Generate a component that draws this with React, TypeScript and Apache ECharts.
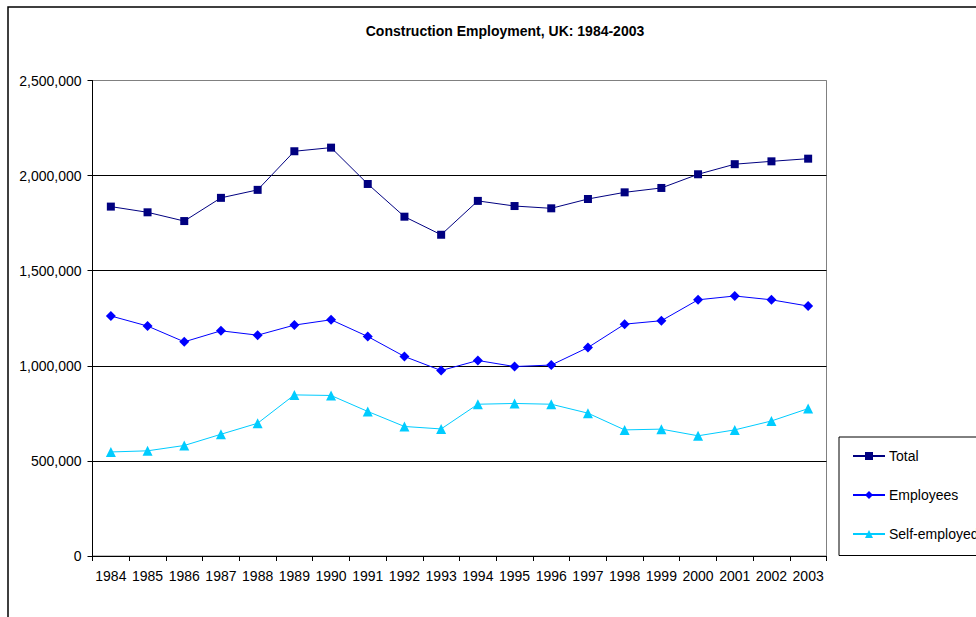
import React, { useEffect, useRef } from "react";
import * as echarts from "echarts";

const years = ["1984","1985","1986","1987","1988","1989","1990","1991","1992","1993","1994","1995","1996","1997","1998","1999","2000","2001","2002","2003"];
const total = [1837000,1807000,1761000,1883000,1925000,2128000,2147000,1956000,1784000,1689000,1867000,1840000,1828000,1877000,1912000,1935000,2007000,2060000,2075000,2089000];
const employees = [1262000,1209000,1126000,1184000,1161000,1214000,1242000,1154000,1049000,975000,1028000,996000,1004000,1096000,1219000,1237000,1347000,1367000,1347000,1314000];
const selfEmployed = [547000,553000,581000,640000,698000,847000,844000,760000,681000,668000,798000,802000,798000,751000,663000,667000,632000,663000,710000,775000];
const title = "Construction Employment, UK: 1984-2003";

const FONT = "'Liberation Sans', Arial, sans-serif";

export default function App() {
  const ref = useRef<HTMLDivElement>(null);
  useEffect(() => {
    if (!ref.current) return;
    const chart = echarts.init(ref.current, null, { renderer: "svg" });
    chart.setOption({
      animation: false,
      backgroundColor: "#fff",
      textStyle: { fontFamily: FONT },
      title: {
        text: title,
        left: 500,
        textAlign: "center",
        top: 19,
        textStyle: { fontSize: 14, fontWeight: "bold", color: "#000", fontFamily: FONT },
      },
      graphic: [
        {
          type: "rect",
          shape: { x: 8, y: 7, width: 1000, height: 700 },
          style: { fill: "none", stroke: "#000", lineWidth: 1.5 },
          silent: true,
          z: 100,
        },
      ],
      legend: {
        orient: "vertical",
        left: 839,
        top: 437,
        padding: [11, 60, 13.5, 13],
        itemWidth: 32,
        itemHeight: 10,
        itemGap: 23,
        borderColor: "#000",
        borderWidth: 1,
        textStyle: { fontSize: 14, color: "#000", fontFamily: FONT, lineHeight: 16, padding: [0, 0, 0, -1] },
        data: ["Total", "Employees", "Self-employed"],
      },
      grid: {
        left: 92.5,
        top: 80.5,
        right: 149.5,
        bottom: 61,
        show: true,
        borderColor: "#808080",
        borderWidth: 1,
        containLabel: false,
      },
      xAxis: {
        type: "category",
        data: years,
        boundaryGap: true,
        axisLine: { lineStyle: { color: "#000", width: 1 } },
        axisTick: { show: true, inside: false, length: 5, lineStyle: { color: "#000" } },
        axisLabel: { color: "#000", fontSize: 14, margin: 13, interval: 0, fontFamily: FONT },
        splitLine: { show: false },
      },
      yAxis: {
        type: "value",
        min: 0,
        max: 2500000,
        interval: 500000,
        axisLine: { show: true, lineStyle: { color: "#000", width: 1 } },
        axisTick: { show: true, inside: false, length: 5, lineStyle: { color: "#000" } },
        axisLabel: {
          color: "#000",
          fontSize: 14,
          margin: 11,
          fontFamily: FONT,
          formatter: (v: number) => v.toLocaleString("en-US"),
        },
        splitLine: {
          show: true,
          lineStyle: { color: ["#000", "#000", "#000", "#000", "#000", "#808080"], width: 1 },
        },
      },
      series: [
        {
          name: "Total",
          type: "line",
          data: total,
          symbol: "rect",
          symbolSize: 8,
          showAllSymbol: true,
          color: "#000080",
          lineStyle: { color: "#000080", width: 1 },
          itemStyle: { color: "#000080" },
        },
        {
          name: "Employees",
          type: "line",
          data: employees,
          symbol: "diamond",
          symbolSize: 10,
          showAllSymbol: true,
          color: "#0000FF",
          lineStyle: { color: "#0000FF", width: 1 },
          itemStyle: { color: "#0000FF" },
        },
        {
          name: "Self-employed",
          type: "line",
          data: selfEmployed,
          symbol: "triangle",
          symbolSize: 10,
          showAllSymbol: true,
          color: "#00CCFF",
          lineStyle: { color: "#00CCFF", width: 1 },
          itemStyle: { color: "#00CCFF" },
        },
      ],
    });
    return () => chart.dispose();
  }, []);
  return (
    <div
      ref={ref}
      style={{ position: "absolute", left: 0, top: 0, width: 976, height: 617 }}
    />
  );
}
